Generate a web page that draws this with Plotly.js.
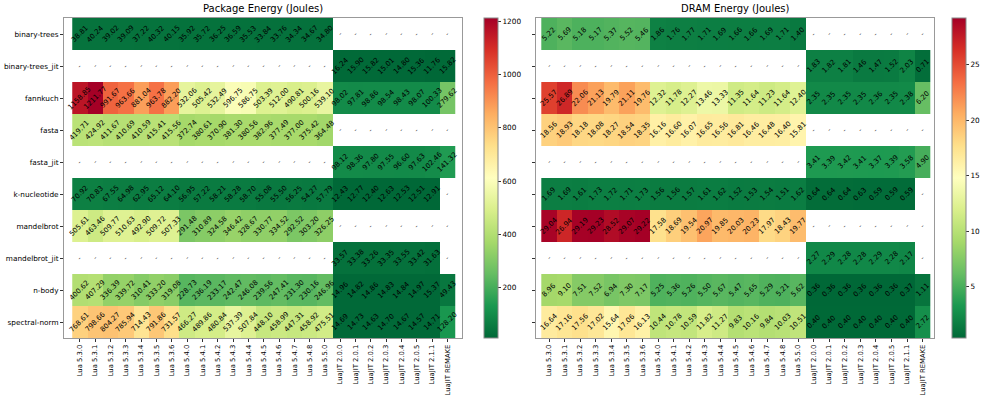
<!DOCTYPE html>
<html>
<head>
<meta charset="utf-8">
<script src="https://cdn.plot.ly/plotly-3.0.1.min.js"></script>
<style>
  html, body { margin: 0; padding: 0; background: #fff; }
  #myDiv { width: 996px; height: 399px; }
</style>
</head>
<body>
<div id="myDiv"></div>
<script>
var versions = ['Lua 5.3.0', 'Lua 5.3.1', 'Lua 5.3.2', 'Lua 5.3.3', 'Lua 5.3.4', 'Lua 5.3.5', 'Lua 5.3.6',
  'Lua 5.4.0', 'Lua 5.4.1', 'Lua 5.4.2', 'Lua 5.4.3', 'Lua 5.4.4', 'Lua 5.4.5', 'Lua 5.4.6', 'Lua 5.4.7', 'Lua 5.4.8',
  'Lua 5.5.0', 'LuaJIT 2.0.0', 'LuaJIT 2.0.1', 'LuaJIT 2.0.2', 'LuaJIT 2.0.3', 'LuaJIT 2.0.4', 'LuaJIT 2.0.5',
  'LuaJIT 2.1.1', 'LuaJIT REMAKE'];

var benchmarks = ['binary-trees', 'binary-trees_jit', 'fannkuch', 'fasta', 'fasta_jit',
  'k-nucleotide', 'mandelbrot', 'mandelbrot_jit', 'n-body', 'spectral-norm'];

// package energy (joules), one array per benchmark
var pkgBinaryTrees = [38.81, 40.24, 39.02, 39.09, 37.22, 40.32, 40.15, 35.92, 35.72, 36.25, 36.59, 35.53, 33.84, 33.76, 34.34, 34.67, 34.80,
  null, null, null, null, null, null, null, null];
var pkgBinaryTreesJit = [null, null, null, null, null, null, null, null, null, null, null, null, null, null, null, null, null,
  16.24, 15.90, 15.82, 15.01, 14.80, 15.36, 11.76, 15.82];
var pkgFannkuch = [1158.85, 1211.77, 991.67, 963.66, 881.04, 963.78, 882.20, 532.06, 505.42, 532.49, 596.75, 586.75, 503.39, 512.00, 490.81, 500.16, 539.10,
  98.02, 97.81, 98.86, 98.54, 98.43, 98.07, 100.33, 279.62];
var pkgFasta = [419.71, 424.92, 411.67, 410.69, 410.59, 415.41, 415.56, 372.74, 380.61, 370.90, 381.30, 380.56, 382.96, 377.49, 377.00, 375.42, 364.48,
  null, null, null, null, null, null, null, null];
var pkgFastaJit = [null, null, null, null, null, null, null, null, null, null, null, null, null, null, null, null, null,
  98.12, 98.36, 97.80, 97.55, 96.60, 97.63, 102.46, 141.32];
var pkgKNucleotide = [70.92, 70.83, 67.55, 64.98, 62.95, 65.12, 64.10, 56.95, 57.22, 58.21, 58.28, 58.70, 55.08, 55.50, 56.25, 54.27, 57.79,
  12.43, 12.77, 12.40, 12.63, 12.53, 12.51, 12.91, null];
var pkgMandelbrot = [505.61, 463.46, 509.77, 510.63, 492.90, 509.72, 507.33, 291.48, 310.89, 324.58, 346.42, 328.67, 330.77, 334.52, 292.52, 303.20, 326.25,
  null, null, null, null, null, null, null, null];
var pkgMandelbrotJit = [null, null, null, null, null, null, null, null, null, null, null, null, null, null, null, null, null,
  33.57, 33.38, 33.26, 33.35, 33.55, 33.42, 31.63, null];
var pkgNBody = [400.62, 407.29, 336.39, 339.72, 310.41, 333.20, 319.08, 228.73, 236.19, 233.17, 242.47, 246.08, 239.56, 247.41, 231.30, 230.16, 246.96,
  14.96, 14.82, 14.86, 14.83, 14.84, 14.97, 15.37, 49.43];
var pkgSpectralNorm = [768.61, 798.66, 804.27, 785.94, 714.43, 791.86, 731.57, 466.27, 489.86, 480.84, 537.39, 507.84, 448.10, 458.99, 447.31, 458.92, 475.51,
  14.69, 14.73, 14.63, 14.70, 14.67, 14.57, 14.71, 128.20];

// DRAM energy (joules)
var dramBinaryTrees = [5.22, 5.69, 5.18, 5.17, 5.37, 5.52, 5.46, 1.86, 1.76, 1.77, 1.71, 1.69, 1.66, 1.66, 1.69, 1.71, 1.40,
  null, null, null, null, null, null, null, null];
var dramBinaryTreesJit = [null, null, null, null, null, null, null, null, null, null, null, null, null, null, null, null, null,
  1.83, 1.82, 1.81, 1.46, 1.47, 1.52, 2.03, 0.71];
var dramFannkuch = [25.57, 26.89, 22.06, 21.13, 19.79, 21.11, 19.76, 12.32, 11.78, 12.27, 13.46, 13.33, 11.35, 11.64, 11.23, 11.64, 12.40,
  2.35, 2.35, 2.35, 2.35, 2.36, 2.35, 2.38, 6.20];
var dramFasta = [18.56, 18.93, 18.18, 18.08, 18.27, 18.54, 18.35, 16.16, 16.60, 16.07, 16.65, 16.56, 16.81, 16.46, 16.48, 16.40, 15.81,
  null, null, null, null, null, null, null, null];
var dramFastaJit = [null, null, null, null, null, null, null, null, null, null, null, null, null, null, null, null, null,
  3.41, 3.39, 3.42, 3.41, 3.37, 3.39, 3.58, 4.90];
var dramKNucleotide = [1.69, 1.69, 1.61, 1.73, 1.72, 1.71, 1.73, 1.56, 1.56, 1.57, 1.61, 1.62, 1.52, 1.53, 1.54, 1.51, 1.62,
  0.64, 0.64, 0.64, 0.63, 0.59, 0.59, 0.59, null];
var dramMandelbrot = [29.04, 26.94, 29.19, 29.23, 28.52, 29.07, 29.22, 17.58, 18.69, 19.54, 20.97, 19.85, 20.03, 20.23, 17.97, 18.43, 19.77,
  null, null, null, null, null, null, null, null];
var dramMandelbrotJit = [null, null, null, null, null, null, null, null, null, null, null, null, null, null, null, null, null,
  2.27, 2.29, 2.28, 2.28, 2.29, 2.28, 2.17, null];
var dramNBody = [8.96, 9.10, 7.51, 7.52, 6.94, 7.30, 7.17, 5.25, 5.36, 5.26, 5.50, 5.67, 5.47, 5.65, 5.29, 5.21, 5.62,
  0.36, 0.36, 0.36, 0.36, 0.36, 0.36, 0.37, 1.11];
var dramSpectralNorm = [16.64, 17.16, 17.56, 17.02, 15.64, 17.06, 16.13, 10.44, 10.78, 10.59, 11.82, 11.27, 9.83, 10.16, 9.84, 10.03, 10.51,
  0.40, 0.40, 0.40, 0.40, 0.40, 0.40, 0.40, 2.72];

var pkgZ = [pkgBinaryTrees, pkgBinaryTreesJit, pkgFannkuch, pkgFasta, pkgFastaJit,
  pkgKNucleotide, pkgMandelbrot, pkgMandelbrotJit, pkgNBody, pkgSpectralNorm];
var dramZ = [dramBinaryTrees, dramBinaryTreesJit, dramFannkuch, dramFasta, dramFastaJit,
  dramKNucleotide, dramMandelbrot, dramMandelbrotJit, dramNBody, dramSpectralNorm];

// matplotlib RdYlGn_r
var rdylgnR = [
  [0.0, '#006837'], [0.1, '#1a9850'], [0.2, '#66bd63'], [0.3, '#a6d96a'],
  [0.4, '#d9ef8b'], [0.5, '#ffffbf'], [0.6, '#fee08b'], [0.7, '#fdae61'],
  [0.8, '#f46d43'], [0.9, '#d73027'], [1.0, '#a50026']
];

var font = 'DejaVu Sans, sans-serif';
var yDom = [1 - 338 / 399, 1 - 18 / 399];

function cellNotes(z, xa, ya) {
  var notes = [];
  for (var r = 0; r < benchmarks.length; r++) {
    for (var c = 0; c < versions.length; c++) {
      var v = z[r][c];
      notes.push({
        x: versions[c], y: benchmarks[r], xref: xa, yref: ya,
        text: v === null ? '-' : v.toFixed(2),
        showarrow: false, textangle: -45,
        font: {family: font, size: 7, color: '#000'}
      });
    }
  }
  return notes;
}

function colorbar(x, dtick) {
  return {
    x: x, xanchor: 'left', xref: 'paper', xpad: 0, ypad: 0,
    y: (yDom[0] + yDom[1]) / 2, yanchor: 'middle',
    len: yDom[1] - yDom[0], lenmode: 'fraction',
    thickness: 14, outlinewidth: 1, outlinecolor: '#888',
    tick0: 0, dtick: dtick, ticks: 'outside', ticklen: 3, tickcolor: '#333',
    tickfont: {family: font, size: 7.3, color: '#000'}
  };
}

var trace1 = {
  type: 'heatmap', z: pkgZ, x: versions, y: benchmarks,
  xaxis: 'x', yaxis: 'y',
  colorscale: rdylgnR, colorbar: colorbar(484 / 996, 200),
  xgap: 0, ygap: 0, hoverinfo: 'skip'
};

var trace2 = {
  type: 'heatmap', z: dramZ, x: versions, y: benchmarks,
  xaxis: 'x2', yaxis: 'y2',
  colorscale: rdylgnR, colorbar: colorbar(952 / 996, 5),
  xgap: 0, ygap: 0, hoverinfo: 'skip'
};

function xAxis(dom, anchor) {
  return {
    domain: dom, anchor: anchor, type: 'category',
    tickangle: -90, ticks: 'outside', ticklen: 3, tickcolor: '#333',
    tickfont: {family: font, size: 6.8, color: '#000'},
    showline: true, mirror: true, linecolor: '#999', linewidth: 1,
    showgrid: false, zeroline: false, fixedrange: true
  };
}

function yAxis(anchor, labels) {
  return {
    domain: yDom, anchor: anchor, type: 'category', autorange: 'reversed',
    ticks: 'outside', ticklen: 3, tickcolor: '#333', showticklabels: labels,
    tickfont: {family: font, size: 7.3, color: '#000'},
    showline: true, mirror: true, linecolor: '#999', linewidth: 1,
    showgrid: false, zeroline: false, fixedrange: true
  };
}

var titles = [
  {text: 'Package Energy (Joules)', x: (64 + 462) / 2 / 996},
  {text: 'DRAM Energy (Joules)', x: (536 + 934) / 2 / 996}
].map(function (t) {
  return {
    text: t.text, x: t.x, xref: 'paper', y: 1 - 9 / 399, yref: 'paper',
    xanchor: 'center', yanchor: 'middle', showarrow: false,
    font: {family: font, size: 10, color: '#000'}
  };
});

var layout = {
  width: 996, height: 399,
  margin: {l: 0, r: 0, t: 0, b: 0},
  paper_bgcolor: '#fff', plot_bgcolor: '#fff',
  showlegend: false,
  xaxis: xAxis([64 / 996, 462 / 996], 'y'),
  yaxis: yAxis('x', true),
  xaxis2: xAxis([536 / 996, 934 / 996], 'y2'),
  yaxis2: yAxis('x2', false),
  annotations: titles.concat(cellNotes(pkgZ, 'x', 'y'), cellNotes(dramZ, 'x2', 'y2'))
};

Plotly.newPlot('myDiv', [trace1, trace2], layout, {displayModeBar: false, staticPlot: true});
</script>
</body>
</html>
